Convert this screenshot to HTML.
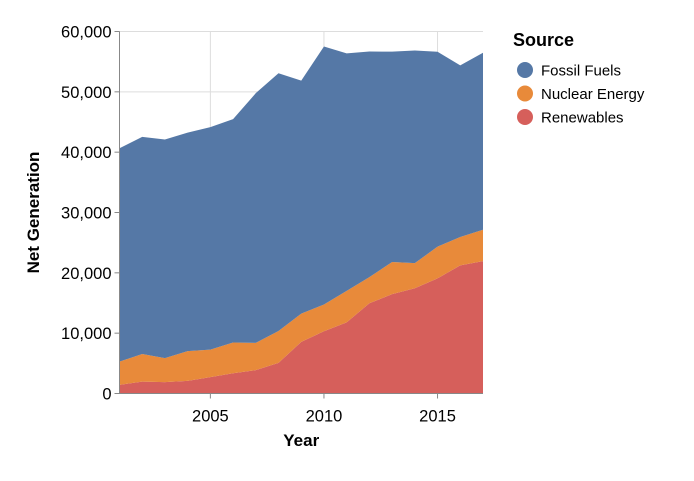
<!DOCTYPE html>
<html><head><meta charset="utf-8"><style>
body{margin:0;background:#fff;font-family:"Liberation Sans",sans-serif}
</style></head><body>
<svg id="c" width="694" height="476" xmlns="http://www.w3.org/2000/svg" font-family="Liberation Sans, sans-serif"></svg>
<script>
const years=[2001,2002,2003,2004,2005,2006,2007,2008,2009,2010,2011,2012,2013,2014,2015,2016,2017];
const fossil=[35361,35991,36234,36205,36883,37014,41389,42734,38620,42750,39361,37379,34873,35250,32319,28437,29329];
const nuclear=[3853,4574,3988,4929,4538,5095,4519,5282,4679,4451,5215,4347,5321,4152,5243,4703,5214];
const renew=[1437,1963,1885,2102,2724,3364,3870,5070,8560,10308,11795,14949,16476,17452,19091,21241,21933];
const yTicks=[0,10000,20000,30000,40000,50000,60000];
const xTicks=[2005,2010,2015];
const seriesNames=["Renewables","Nuclear Energy","Fossil Fuels"];
const colors={"Fossil Fuels":"#5578a6","Nuclear Energy":"#e88a3a","Renewables":"#d65f5b"};
const L=119.5,T=31.5,W=363.5,H=362;
const t0=Date.UTC(2001,0,1),t1=Date.UTC(2017,0,1);
const x=y=>L+(Date.UTC(y,0,1)-t0)/(t1-t0)*W;
const yS=v=>T+H-v/60000*H;
const svg=document.getElementById('c');const NS="http://www.w3.org/2000/svg";
function el(tag,a,p){const e=document.createElementNS(NS,tag);for(const k in a)e.setAttribute(k,a[k]);(p||svg).appendChild(e);return e;}
yTicks.forEach(v=>{const g=el('line',{x1:L,x2:L+W,y1:yS(v),y2:yS(v),stroke:'#ddd'});

});
xTicks.forEach(yr=>{const g=el('line',{x1:x(yr),x2:x(yr),y1:T,y2:T+H,stroke:'#ddd'});

});
const data=[renew,nuclear,fossil];
let base=years.map(()=>0);
data.forEach((s,i)=>{const top=base.map((b,j)=>b+s[j]);
let d='M'+years.map((yr,j)=>x(yr)+','+yS(top[j])).join('L');
for(let j=years.length-1;j>=0;j--)d+='L'+x(years[j])+','+yS(base[j]);
const p=el('path',{d:d+'Z',fill:colors[seriesNames[i]]});


base=top;});
const ax=el('line',{x1:L,x2:L,y1:T,y2:T+H,stroke:'#888'});


const bx=el('line',{x1:L,x2:L+W,y1:T+H,y2:T+H,stroke:'#888'});


yTicks.forEach(v=>{el('line',{x1:L-5,x2:L,y1:yS(v),y2:yS(v),stroke:'#888'});
const t=el('text',{x:L-8,y:yS(v)+6,'text-anchor':'end','font-size':'16.5',fill:'#000'});t.textContent=v.toLocaleString('en-US');

});
xTicks.forEach(v=>{el('line',{x1:x(v),x2:x(v),y1:T+H,y2:T+H+5,stroke:'#888'});
const t=el('text',{x:x(v),y:T+H+28,'text-anchor':'middle','font-size':'16.5',fill:'#000'});t.textContent=v;

});
const xt=el('text',{x:L+W/2,y:446,'text-anchor':'middle','font-size':'17','font-weight':'bold'});xt.textContent='Year';


const yt=el('text',{transform:'translate(39,'+(T+H/2)+') rotate(-90)','text-anchor':'middle','font-size':'17','font-weight':'bold'});yt.textContent='Net Generation';


const lt=el('text',{x:513,y:46,'font-size':'18','font-weight':'bold'});lt.textContent='Source';


["Fossil Fuels","Nuclear Energy","Renewables"].forEach((n,i)=>{const g=el('g',{});


el('circle',{cx:525,cy:70+i*23.5,r:8,fill:colors[n]},g);
const t=el('text',{x:541,y:75.5+i*23.5,'font-size':'15'},g);t.textContent=n;});
</script>
</body></html>
